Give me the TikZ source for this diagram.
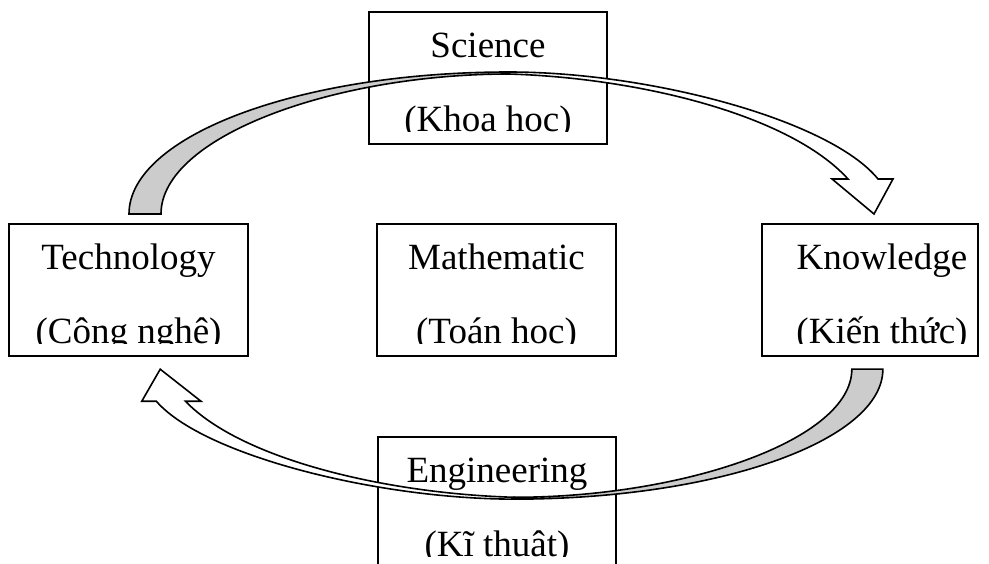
\documentclass[tikz,border=0pt]{standalone}
\usepackage{fontspec}
\setmainfont{Liberation Serif}
\usetikzlibrary{calc}
\definecolor{shade}{RGB}{204, 204, 204}

% one twisted ribbon arrow, drawn in picture pixels
\newcommand{\twistarrow}{%
  \draw[back] (129,214) .. controls (129,136) and (299,72) .. (509,72)
    -- (509,74) .. controls (333,74) and (161,137) .. (161,214) -- cycle;
  \draw[front] (509,72) .. controls (650,72) and (830,120) .. (878,179)
    -- (893,179) -- (874,214) -- (832,179) -- (848,179)
    .. controls (790,115) and (640,78) .. (509,74) -- cycle;
}

\begin{document}
\begin{tikzpicture}[x=1pt, y=-1pt,
   card/.style={draw, line width=1.6pt, inner sep=0, minimum height=132pt},
   word/.style={font=\fontsize{37}{37}\selectfont, anchor=base, inner sep=0},
   back/.style={draw, fill=shade, line width=1.6pt},
   front/.style={draw, fill=white, line width=1.6pt}
  ]
  \useasboundingbox (0,0) rectangle (989,563);

  \foreach \N/\X/\Y/\W/\T/\A/\B in {Sci/488/78/238/488/Science/(Khoa học),
      Tech/128.5/290/239/128.5/Technology/(Công nghệ),
      Math/496.5/290/239/496.5/Mathematic/(Toán học),
      Know/870/290/216/882/Knowledge/(Kiến thức),
      Eng/497/503/238/497/Engineering/(Kĩ thuật)} {
    \node (\N) at (\X,\Y) [card, minimum width=\W pt] {};
    \begin{scope}
      \clip (\N.north west) rectangle ([yshift=13pt]\N.south east);
      \node (\N-a) at (\T,{\Y-21}) [word] {\A};
      \node (\N-b) at (\T,{\Y+53}) [word] {\B};
    \end{scope}
  }

  \twistarrow
  \begin{scope}[shift={(1008,565)}, xscale=-0.97, yscale=-0.915]
    \twistarrow
  \end{scope}

\end{tikzpicture}
\end{document}
